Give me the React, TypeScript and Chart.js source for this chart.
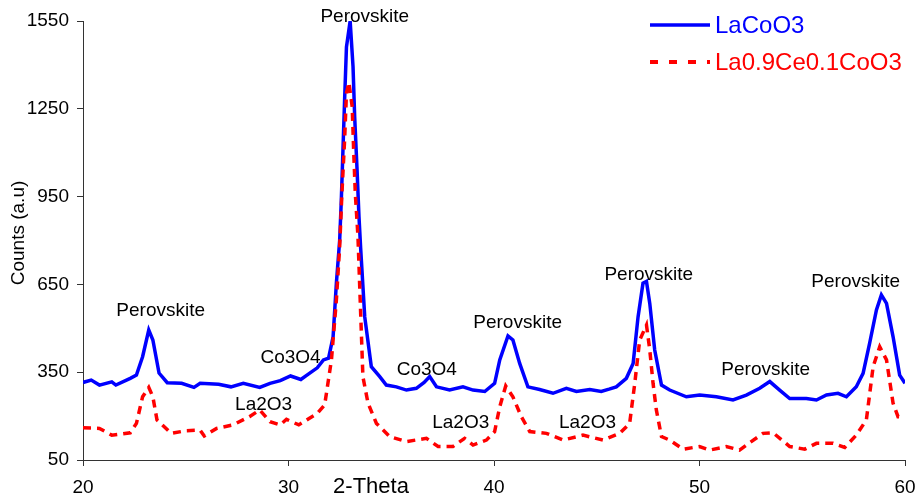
import React, { useEffect, useRef } from "react";
import { Chart, registerables } from "chart.js";
Chart.register(...registerables);

const FONT = '"Liberation Sans", Arial, sans-serif';

// LaCoO3 (blue, solid)
const blueX = [20.0, 20.4, 20.8, 21.4, 21.6, 22.3, 22.6, 22.9, 23.2, 23.4, 23.7, 24.1, 24.8, 25.4, 25.7, 26.6, 27.2, 27.8, 28.6, 29.1, 29.6, 30.1, 30.6, 31.0, 31.4, 31.7, 31.95, 32.17, 32.33, 32.49, 32.57, 32.65, 32.73, 32.82, 33.0, 33.14, 33.22, 33.33, 33.43, 33.51, 33.71, 34.03, 34.44, 34.76, 35.25, 35.74, 36.22, 36.6, 36.87, 37.2, 37.84, 38.49, 38.98, 39.55, 40.03, 40.28, 40.68, 40.92, 41.25, 41.65, 42.22, 42.87, 43.52, 44.01, 44.66, 45.22, 45.6, 45.95, 46.44, 46.77, 47.01, 47.25, 47.42, 47.58, 47.82, 48.15, 48.55, 49.36, 50.01, 50.82, 51.63, 52.28, 52.93, 53.42, 53.9, 54.39, 55.2, 55.69, 56.18, 56.74, 57.15, 57.63, 57.96, 58.28, 58.61, 58.85, 59.1, 59.42, 59.74, 60.0];
const blueY = [315, 323, 306, 317, 306, 329, 340, 403, 494, 460, 347, 314, 312, 298, 312, 309, 300, 312, 298, 312, 321, 337, 325, 345, 365, 392, 398, 471, 654, 800, 938, 1109, 1280, 1461, 1550, 1394, 1223, 1052, 881, 775, 539, 369, 335, 306, 300, 289, 295, 315, 335, 300, 289, 300, 289, 284, 312, 392, 474, 460, 380, 300, 291, 278, 295, 284, 291, 284, 292, 300, 329, 380, 539, 654, 660, 585, 426, 306, 289, 266, 272, 266, 255, 272, 295, 318, 289, 260, 260, 255, 272, 278, 266, 300, 346, 449, 563, 614, 585, 471, 340, 312];

// La0.9Ce0.1CoO3 (red, dashed)
const redX = [20.0, 20.8, 21.4, 22.3, 22.6, 22.9, 23.2, 23.4, 23.6, 24.3, 25.0, 25.7, 25.9, 26.5, 27.3, 28.1, 28.6, 29.1, 29.6, 29.9, 30.5, 31.0, 31.4, 31.76, 32.09, 32.33, 32.49, 32.6, 32.73, 32.82, 32.94, 33.1, 33.17, 33.25, 33.38, 33.46, 33.62, 33.87, 34.28, 34.93, 35.74, 36.71, 37.28, 38.0, 38.57, 38.98, 39.63, 40.03, 40.28, 40.57, 40.92, 41.33, 41.74, 42.55, 43.36, 44.33, 45.31, 46.12, 46.6, 46.85, 47.09, 47.42, 47.58, 47.74, 47.9, 48.15, 48.55, 49.2, 50.0, 50.5, 51.3, 51.95, 52.44, 53.09, 53.58, 54.39, 55.12, 55.69, 56.5, 57.07, 57.63, 58.12, 58.45, 58.77, 59.1, 59.42, 59.66, 60.0];
const redY = [160, 158, 135, 143, 175, 266, 298, 266, 187, 141, 150, 152, 132, 158, 170, 198, 221, 181, 170, 189, 170, 192, 209, 238, 392, 597, 779, 962, 1143, 1303, 1340, 1257, 1109, 962, 813, 654, 335, 244, 175, 130, 113, 124, 96, 96, 124, 101, 118, 147, 232, 303, 266, 198, 147, 141, 118, 135, 118, 141, 175, 312, 460, 511, 426, 312, 221, 130, 118, 87, 96, 84, 96, 84, 109, 141, 143, 96, 87, 107, 107, 93, 135, 187, 369, 437, 392, 244, 198, 198];

// Peak annotations (data coordinates of label centres)
const annText = ["Perovskite", "Co3O4", "La2O3", "Perovskite", "Co3O4", "Perovskite", "La2O3", "La2O3", "Perovskite", "Perovskite", "Perovskite"];
const annX = [23.78, 30.1, 28.79, 33.71, 36.73, 41.15, 38.38, 44.55, 47.53, 53.22, 57.6];
const annY = [559, 398, 238, 1563, 357, 518, 176, 176, 682, 357, 658];

const seriesNames = ["LaCoO3", "La0.9Ce0.1CoO3"];
const xTitle = "2-Theta";
const yTitle = "Counts (a.u)";

const overlay = {
  id: "overlay",
  afterDraw(chart: any) {
    const ctx = chart.ctx;
    const xs = chart.scales.x;
    const ys = chart.scales.y;
    ctx.save();
    ctx.fillStyle = "#000";
    ctx.textAlign = "center";
    ctx.textBaseline = "middle";
    ctx.font = `19px ${FONT}`;
    annText.forEach((t, i) => {
      ctx.fillText(t, xs.getPixelForValue(annX[i]), ys.getPixelForValue(annY[i]));
    });
    // axis titles
    ctx.font = `22px ${FONT}`;
    ctx.fillText(xTitle, 371, 487);
    ctx.save();
    ctx.translate(19, 233);
    ctx.rotate(-Math.PI / 2);
    ctx.font = `19px ${FONT}`;
    ctx.fillText(yTitle, 0, 0);
    ctx.restore();
    // legend
    const items = [
      { name: seriesNames[0], color: "#0000FF", dash: [] as number[], w: 3.5, y: 25 },
      { name: seriesNames[1], color: "#FF0000", dash: [8, 11], w: 4, y: 62 },
    ];
    ctx.textAlign = "left";
    ctx.font = `24px ${FONT}`;
    items.forEach((it) => {
      ctx.beginPath();
      ctx.strokeStyle = it.color;
      ctx.lineWidth = it.w;
      ctx.setLineDash(it.dash);
      ctx.moveTo(650, it.y);
      ctx.lineTo(710, it.y);
      ctx.stroke();
      ctx.setLineDash([]);
      ctx.fillStyle = it.color;
      ctx.fillText(it.name, 715, it.y + 1);
    });
    ctx.restore();
  },
};

export default function App() {
  const ref = useRef<HTMLCanvasElement>(null);
  useEffect(() => {
    document.body.style.margin = "0";
    const canvas = ref.current!;
    const chart = new Chart(canvas, {
      type: "line",
      data: {
        datasets: [
          {
            label: seriesNames[0],
            data: blueX.map((x, i) => ({ x, y: blueY[i] })),
            borderColor: "#0000FF",
            backgroundColor: "#0000FF",
            borderWidth: 3.5,
            pointRadius: 0,
            tension: 0,
            order: 2,
          },
          {
            label: seriesNames[1],
            data: redX.map((x, i) => ({ x, y: redY[i] })),
            borderColor: "#FF0000",
            backgroundColor: "#FF0000",
            borderWidth: 3.5,
            borderDash: [8, 6],
            pointRadius: 0,
            tension: 0,
            order: 1,
          },
        ],
      },
      options: {
        responsive: false,
        animation: false,
        layout: { padding: { top: 21, right: 13, left: 0, bottom: 0 } },
        plugins: { legend: { display: false }, tooltip: { enabled: false } },
        scales: {
          x: {
            type: "linear",
            min: 20,
            max: 60,
            afterFit: (s: any) => { s.height = 43; s.paddingLeft = 0; s.paddingRight = 0; },
            ticks: { stepSize: 10, color: "#000", font: { family: FONT, size: 19 }, padding: 10, maxRotation: 0, callback: (v: any) => String(v) },
            grid: { drawOnChartArea: false, drawTicks: true, tickLength: 6, color: "#333" },
            border: { display: true, color: "#333", width: 1 },
          },
          y: {
            type: "linear",
            min: 50,
            max: 1550,
            afterFit: (s: any) => { s.width = 83; s.paddingTop = 0; s.paddingBottom = 0; },
            ticks: { stepSize: 300, color: "#000", font: { family: FONT, size: 19 }, padding: 8, callback: (v: any) => String(v) },
            grid: { drawOnChartArea: false, drawTicks: true, tickLength: 6, color: "#333" },
            border: { display: true, color: "#333", width: 1 },
          },
        },
      },
      plugins: [overlay],
    });
    return () => chart.destroy();
  }, []);
  return (
    <div style={{ width: 918, height: 503, position: "relative" }}>
      <canvas ref={ref} width={918} height={503} style={{ display: "block" }} />
    </div>
  );
}
